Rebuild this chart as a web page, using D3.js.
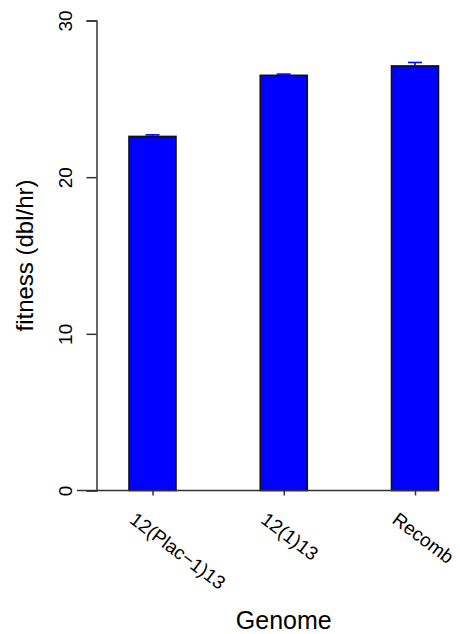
<!DOCTYPE html>
<html>
<head>
<meta charset="utf-8">
<script src="https://cdn.jsdelivr.net/npm/d3@7"></script>
<style>
  body { margin: 0; background: #fff; }
  text { font-family: "Liberation Sans", Arial, sans-serif; fill: #000; }
</style>
</head>
<body>
<div id="container"></div>
<script>
// data
var genomes = ["12(Plac\u22121)13", "12(1)13", "Recomb"];
var fitness = [22.6, 26.5, 27.1];
var errors = [0.1, 0.08, 0.22];
var yTicks = [0, 10, 20, 30];

var width = 460;
var height = 634;

var svg = d3.select("#container")
            .append("svg")
            .attr("width", width)
            .attr("height", height);

var yScale = d3.scaleLinear()
               .domain([0, 30])
               .range([490.5, 20.5]);

var xScale = d3.scalePoint()
               .domain(genomes)
               .range([152.5, 415]);

var barWidth = 47;
var capWidth = 14;

// bars
svg.selectAll("rect.bar")
   .data(genomes)
   .enter()
   .append("rect")
   .attr("class", "bar")
   .attr("x", (d) => xScale(d) - barWidth / 2)
   .attr("y", (d, i) => yScale(fitness[i]))
   .attr("width", barWidth)
   .attr("height", (d, i) => yScale(0) - yScale(fitness[i]))
   .attr("fill", "#0000ff")
   .attr("stroke", "#111")
   .attr("stroke-width", 1.6);

// error bars
var err = svg.selectAll("g.err")
   .data(genomes)
   .enter()
   .append("g")
   .attr("class", "err")
   .attr("stroke", "#0000ff")
   .attr("stroke-width", 1.6);

err.append("line")
   .attr("x1", (d) => xScale(d))
   .attr("x2", (d) => xScale(d))
   .attr("y1", (d, i) => yScale(fitness[i]))
   .attr("y2", (d, i) => yScale(fitness[i] + errors[i]));

err.append("line")
   .attr("x1", (d) => xScale(d) - capWidth / 2)
   .attr("x2", (d) => xScale(d) + capWidth / 2)
   .attr("y1", (d, i) => yScale(fitness[i] + errors[i]))
   .attr("y2", (d, i) => yScale(fitness[i] + errors[i]));

// y axis
var yAxis = d3.axisLeft(yScale)
              .tickValues(yTicks)
              .tickSize(10)
              .tickPadding(0)
              .tickFormat(d3.format("d"));

var yG = svg.append("g")
   .attr("transform", "translate(96.5, 0)")
   .call(yAxis);

yG.select(".domain").attr("stroke", "#333").attr("stroke-width", 1.5);
yG.selectAll(".tick line").attr("stroke", "#333").attr("stroke-width", 1.5);
yG.selectAll(".tick text")
  .attr("x", null)
  .attr("dy", null)
  .attr("transform", "translate(-24.5, 0) rotate(-90)")
  .attr("text-anchor", "middle")
  .style("font-size", "19px")
  .style("font-family", "Liberation Sans, Arial, sans-serif");

// x axis baseline
svg.append("line")
   .attr("x1", 77)
   .attr("x2", xScale(genomes[2]) + barWidth / 2)
   .attr("y1", yScale(0))
   .attr("y2", yScale(0))
   .attr("stroke", "#333")
   .attr("stroke-width", 1.5);

// x ticks
var xAxis = d3.axisBottom(xScale)
              .tickSize(5)
              .tickFormat("");

var xG = svg.append("g")
   .attr("transform", "translate(0, " + yScale(0) + ")")
   .call(xAxis);
xG.select(".domain").remove();
xG.selectAll(".tick line").attr("stroke", "#333").attr("stroke-width", 1.5);

// rotated category labels
svg.selectAll("text.xlab")
   .data(genomes)
   .enter()
   .append("text")
   .attr("class", "xlab")
   .attr("transform", (d) => "translate(" + (xScale(d) - 24) + ", 522) rotate(37)")
   .attr("text-anchor", "start")
   .style("font-size", "19px")
   .text((d) => d);

// axis titles
svg.append("text")
   .attr("transform", "translate(33, " + ((yScale(0) + yScale(30)) / 2) + ") rotate(-90)")
   .attr("text-anchor", "middle")
   .style("font-size", "24px")
   .text("fitness (dbl/hr)");

svg.append("text")
   .attr("x", xScale(genomes[1]))
   .attr("y", 629)
   .attr("text-anchor", "middle")
   .style("font-size", "25px")
   .text("Genome");
</script>
</body>
</html>
